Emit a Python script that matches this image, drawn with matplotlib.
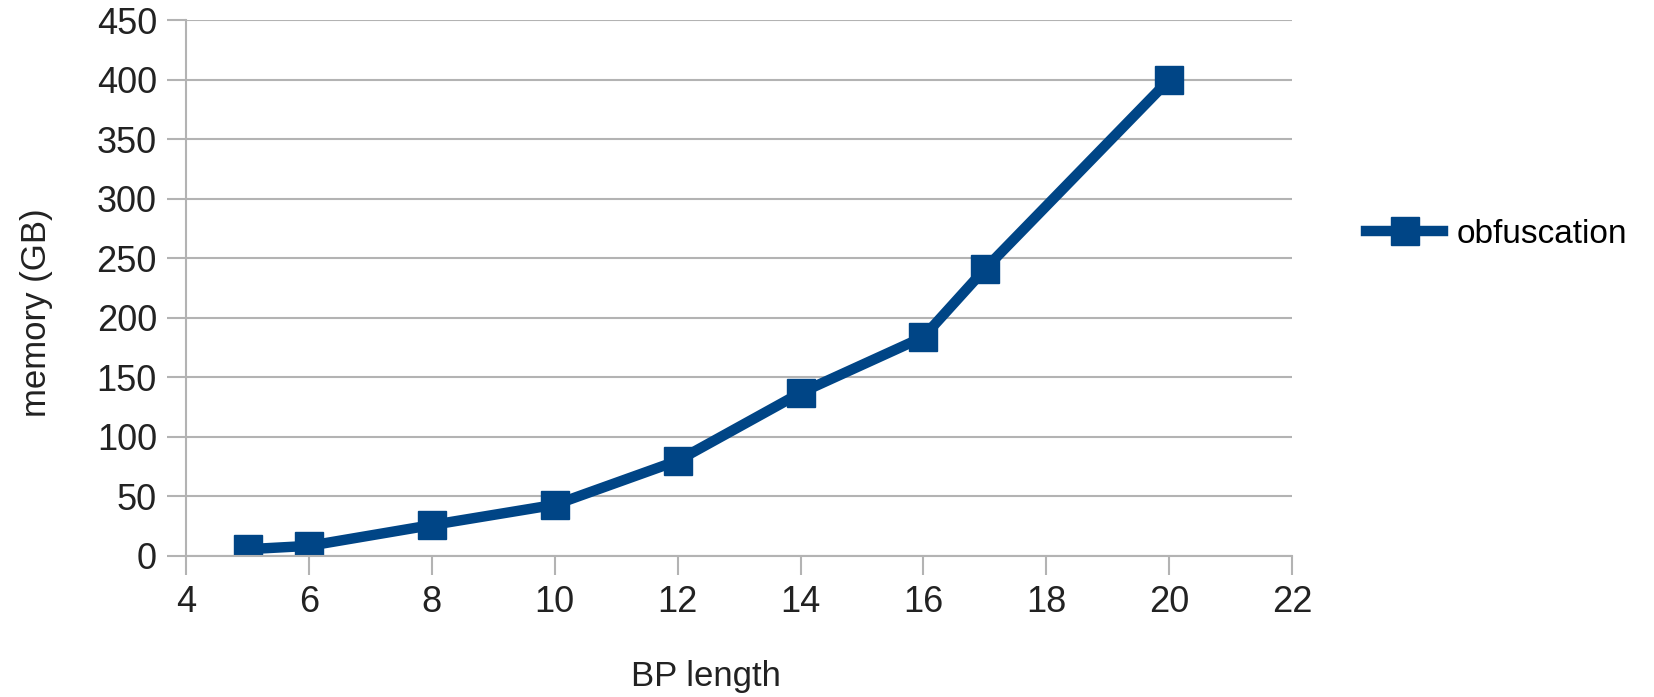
import matplotlib.pyplot as plt

plt.rcParams['font.family'] = ['Liberation Sans', 'DejaVu Sans']

# data
bp_length = [5, 6, 8, 10, 12, 14, 16, 17, 20]
memory_gb = [5.7, 8.5, 26, 43, 80, 137, 184, 241, 400]
x_ticks = [4, 6, 8, 10, 12, 14, 16, 18, 20, 22]
y_ticks = [0, 50, 100, 150, 200, 250, 300, 350, 400, 450]

fig = plt.figure(figsize=(16.54, 6.97), dpi=100)
ax = fig.add_axes([0.1125, 0.2023, 0.6687, 0.7687])

ax.plot(bp_length, memory_gb, color='#004586', linewidth=7.5, marker='s',
        markersize=20, label='obfuscation')

ax.set_xlim(4, 22)
ax.set_ylim(0, 450)
ax.set_xticks(x_ticks)
ax.set_yticks(y_ticks)
ax.grid(axis='y', color='#b3b3b3', linewidth=1.5)
ax.set_axisbelow(True)

for side in ['top', 'right']:
    ax.spines[side].set_visible(False)
for side in ['left', 'bottom']:
    ax.spines[side].set_color('#b3b3b3')
    ax.spines[side].set_linewidth(1.5)
ax.tick_params(axis='both', colors='#b3b3b3', length=14, width=1.5,
               labelsize=26, labelcolor='#222222', pad=7)

ax.set_xlabel('BP length', fontsize=25, color='#222222')
ax.set_ylabel('memory (GB)', fontsize=25, color='#222222')
ax.xaxis.set_label_coords(0.47, -0.195)
ax.yaxis.set_label_coords(-0.12, 0.455)

ax.legend(loc='center left', bbox_to_anchor=(1.04, 0.6), frameon=False,
          fontsize=24, handlelength=2.3, handletextpad=0.4)

plt.savefig('out.png')
